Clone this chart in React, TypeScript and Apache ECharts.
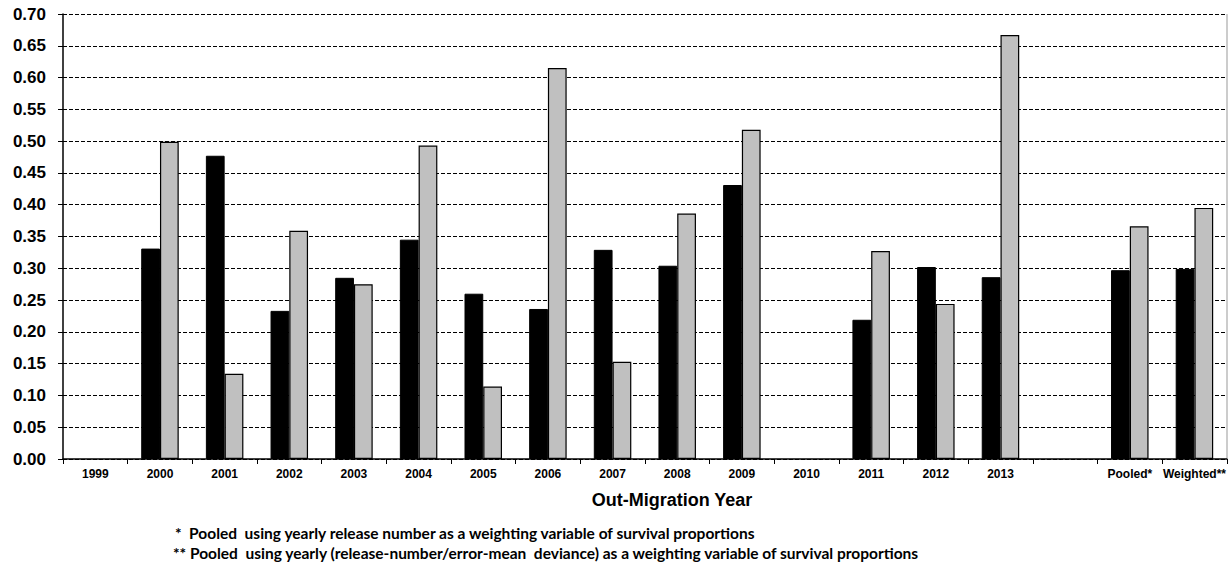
import React, { useEffect, useRef } from "react";
import * as echarts from "echarts";

const categories = ["1999", "2000", "2001", "2002", "2003", "2004", "2005", "2006", "2007", "2008", "2009", "2010", "2011", "2012", "2013", "", "Pooled*", "Weighted**"];
const blackSeries: (number | null)[] = [null, 0.331, 0.477, 0.233, 0.285, 0.345, 0.26, 0.236, 0.329, 0.304, 0.431, null, 0.219, 0.302, 0.286, null, 0.297, 0.299];
const greySeries: (number | null)[] = [null, 0.499, 0.134, 0.359, 0.275, 0.493, 0.114, 0.615, 0.153, 0.386, 0.518, null, 0.327, 0.244, 0.667, null, 0.366, 0.395];
const xTitle = "Out-Migration Year";
const footnotes = [
  "*  Pooled  using yearly release number as a weighting variable of survival proportions",
  "** Pooled  using yearly (release-number/error-mean  deviance) as a weighting variable of survival proportions",
];

export default function App() {
  const ref = useRef<HTMLDivElement>(null);
  useEffect(() => {
    if (!ref.current) return;
    const chart = echarts.init(ref.current, undefined, { renderer: "svg" });
    chart.setOption({
      animation: false,
      backgroundColor: "#ffffff",
      grid: { left: 63, right: 2, top: 14, bottom: 104, containLabel: false },
      xAxis: {
        type: "category",
        data: categories,
        axisLine: { lineStyle: { color: "#000", width: 1.5 } },
        axisTick: { show: true, length: 5, lineStyle: { color: "#000" }, alignWithLabel: false },
        axisLabel: { color: "#000", fontFamily: "Liberation Sans, Arial", fontWeight: "bold", fontSize: 12, margin: 9, interval: 0 },
      },
      yAxis: {
        type: "value",
        min: 0,
        max: 0.7,
        interval: 0.05,
        axisLine: { show: true, lineStyle: { color: "#000", width: 1.5 } },
        axisTick: { show: true, length: 5, lineStyle: { color: "#000" } },
        axisLabel: {
          color: "#000",
          fontFamily: "Liberation Sans, Arial",
          fontWeight: "bold",
          fontSize: 17,
          margin: 17,
          formatter: (v: number) => v.toFixed(2),
        },
        splitLine: { show: true, lineStyle: { color: "#000", type: [4, 2], width: 1 } },
      },
      series: [
        {
          type: "bar",
          data: blackSeries,
          barGap: "0%",
          barCategoryGap: "42%",
          itemStyle: { color: "#000000", borderColor: "#000", borderWidth: 1 },
        },
        {
          type: "bar",
          data: greySeries,
          itemStyle: { color: "#c0c0c0", borderColor: "#000", borderWidth: 1.2 },
        },
      ],
      graphic: [
        { type: "line", shape: { x1: 1227, y1: 14, x2: 1227, y2: 459 }, style: { stroke: "#999", lineWidth: 1 } },
        {
          type: "text",
          x: 672,
          y: 500,
          style: { text: xTitle, fill: "#000", font: "bold 18px 'Liberation Sans', Arial", textAlign: "center", textVerticalAlign: "middle" },
        },
        {
          type: "text",
          x: 175,
          y: 533,
          style: { text: footnotes[0], fill: "#000", font: "bold 15.5px Lato, 'Open Sans', sans-serif", textAlign: "left", textVerticalAlign: "middle" },
        },
        {
          type: "text",
          x: 173,
          y: 553,
          style: { text: footnotes[1], fill: "#000", font: "bold 15.5px Lato, 'Open Sans', sans-serif", textAlign: "left", textVerticalAlign: "middle" },
        },
      ],
    });
    return () => chart.dispose();
  }, []);
  return <div ref={ref} style={{ position: "fixed", left: 0, top: 0, width: 1229, height: 563 }} />;
}
